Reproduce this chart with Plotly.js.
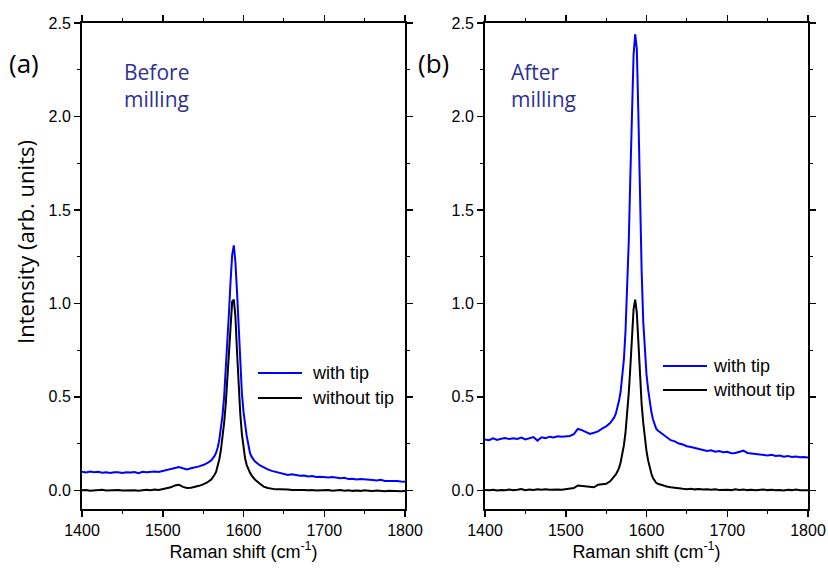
<!DOCTYPE html>
<html>
<head>
<meta charset="utf-8">
<script src="https://cdn.plot.ly/plotly-3.0.1.min.js"></script>
<style>html,body{margin:0;padding:0;background:#fff;}#plot{width:828px;height:569px;}</style>
</head>
<body>
<div id="plot"></div>
<script>
// Raman shift (cm^-1)
const ramanShift = [1400,1405,1410,1415,1420,1425,1430,1435,1440,1445,1450,1455,1460,1465,1470,1475,1480,1485,1490,1495,1500,1505,1510,1515,1520,1525,1530,1535,1540,1545,1550,1555,1560,
1562,1564,1566,1568,1570,1572,1574,1576,1578,1580,1582,1584,1586,1588,1590,1592,1594,1596,1598,1600,1602,1604,1606,1608,1610,1612,1614,
1620,1625,1630,1635,1640,1645,1650,1655,1660,1665,1670,1675,1680,1685,1690,1695,1700,1705,1710,1715,1720,1725,1730,1735,1740,1745,1750,1755,1760,1765,1770,1775,1780,1785,1790,1795,1800];

// (a) Before milling, with tip
const beforeWithTip = [0.100,0.095,0.100,0.097,0.099,0.094,0.097,0.093,0.096,0.097,0.093,0.097,0.095,0.098,0.092,0.099,0.097,0.100,0.101,0.098,0.104,0.106,0.112,0.120,0.125,0.118,0.112,0.118,0.122,0.128,0.135,0.145,0.160,
0.170,0.183,0.200,0.228,0.270,0.330,0.400,0.500,0.630,0.780,0.950,1.120,1.260,1.310,1.220,1.060,0.870,0.670,0.520,0.420,0.350,0.290,0.245,0.200,0.180,0.165,0.155,
0.134,0.122,0.112,0.104,0.098,0.093,0.090,0.082,0.086,0.080,0.078,0.079,0.074,0.076,0.071,0.073,0.070,0.068,0.071,0.066,0.064,0.067,0.060,0.062,0.058,0.060,0.057,0.058,0.055,0.053,0.056,0.050,0.051,0.049,0.050,0.047,0.046];

// (a) Before milling, without tip
const beforeWithoutTip = [0.000,0.002,-0.002,0.001,0.000,0.003,-0.001,0.001,0.000,0.002,-0.001,0.000,0.002,0.000,-0.002,0.001,0.003,0.000,0.004,0.002,0.006,0.010,0.016,0.026,0.030,0.018,0.012,0.014,0.018,0.024,0.032,0.042,0.058,
0.068,0.082,0.098,0.125,0.165,0.215,0.280,0.360,0.460,0.600,0.760,0.910,1.010,1.020,0.930,0.740,0.550,0.410,0.300,0.225,0.170,0.135,0.110,0.095,0.080,0.068,0.058,
0.036,0.020,0.012,0.008,0.005,0.006,0.003,0.004,0.002,0.003,0.001,0.002,0.000,0.002,-0.001,0.001,0.000,0.002,-0.002,0.000,0.001,-0.002,0.000,-0.003,-0.001,-0.003,0.000,-0.002,-0.004,-0.001,-0.003,-0.005,-0.002,-0.004,-0.003,-0.005,-0.004];

// (b) After milling, with tip
const afterWithTip = [0.272,0.268,0.278,0.270,0.276,0.280,0.274,0.279,0.275,0.282,0.272,0.280,0.285,0.266,0.284,0.279,0.287,0.283,0.289,0.286,0.288,0.291,0.300,0.328,0.322,0.312,0.302,0.308,0.315,0.330,0.342,0.360,0.390,
0.410,0.440,0.480,0.530,0.600,0.700,0.850,1.050,1.330,1.680,2.020,2.330,2.440,2.360,2.000,1.550,1.170,0.900,0.730,0.620,0.540,0.470,0.420,0.380,0.350,0.330,0.320,
0.300,0.285,0.268,0.262,0.250,0.245,0.236,0.232,0.226,0.222,0.212,0.210,0.214,0.206,0.210,0.204,0.206,0.198,0.200,0.208,0.212,0.200,0.198,0.192,0.190,0.188,0.186,0.190,0.184,0.186,0.180,0.184,0.178,0.181,0.177,0.178,0.176];

// (b) After milling, without tip
const afterWithoutTip = [0.002,0.000,0.003,-0.001,0.002,0.000,0.004,0.001,0.003,0.007,0.001,0.004,0.002,0.005,0.003,0.006,0.003,0.005,0.004,0.003,0.005,0.006,0.012,0.026,0.024,0.018,0.020,0.016,0.030,0.034,0.035,0.048,0.072,
0.085,0.100,0.120,0.150,0.190,0.240,0.310,0.400,0.520,0.660,0.820,0.970,1.020,0.950,0.790,0.600,0.460,0.360,0.280,0.210,0.160,0.120,0.090,0.065,0.050,0.040,0.035,
0.026,0.020,0.016,0.012,0.010,0.008,0.006,0.008,0.005,0.007,0.004,0.006,0.003,0.005,0.002,0.004,0.003,0.001,0.005,0.002,0.004,0.001,0.003,0.000,0.002,0.004,0.001,0.003,0.000,0.002,-0.001,0.003,0.001,0.004,0.000,0.001,0.000];

const seriesNames = ['with tip', 'without tip'];
const xTickVals = [1400, 1500, 1600, 1700, 1800];
const yTickVals = [0.0, 0.5, 1.0, 1.5, 2.0, 2.5];

const BLUE = '#0000ff', BLACK = '#000000', TXT = '#2e3192';
const ARIAL = 'Liberation Sans, Arial, sans-serif';
const MYRIAD = 'Open Sans, Noto Sans, sans-serif';
const tickFont = {family: ARIAL, size: 16, color: '#000'};
const titleFont = {family: ARIAL, size: 18, color: '#000'};

const traces = [
  {x: ramanShift, y: beforeWithTip, name: seriesNames[0], type: 'scatter', mode: 'lines', line: {color: BLUE, width: 2}, xaxis: 'x', yaxis: 'y', showlegend: false},
  {x: ramanShift, y: beforeWithoutTip, name: seriesNames[1], type: 'scatter', mode: 'lines', line: {color: BLACK, width: 2}, xaxis: 'x', yaxis: 'y', showlegend: false},
  {x: ramanShift, y: afterWithTip, name: seriesNames[0], type: 'scatter', mode: 'lines', line: {color: BLUE, width: 2}, xaxis: 'x2', yaxis: 'y2', showlegend: false},
  {x: ramanShift, y: afterWithoutTip, name: seriesNames[1], type: 'scatter', mode: 'lines', line: {color: BLACK, width: 2}, xaxis: 'x2', yaxis: 'y2', showlegend: false}
];

function xax(domain, anchor) {
  return {
    domain: domain, anchor: anchor, range: [1400, 1800],
    tickmode: 'array', tickvals: xTickVals, ticktext: xTickVals.map(String),
    ticks: 'outside', ticklen: 6, tickwidth: 1.5, tickcolor: '#000',
    minor: {dtick: 50, ticks: 'outside', ticklen: 3, tickwidth: 1.2, tickcolor: '#000'},
    showline: true, linecolor: '#000', linewidth: 2, mirror: 'allticks',
    showgrid: false, zeroline: false, tickfont: tickFont,
    title: {text: 'Raman shift (cm<sup>-1</sup>)', font: titleFont, standoff: 5}
  };
}
function yax(anchor) {
  return {
    domain: [0, 1], anchor: anchor, range: [-0.1, 2.5],
    tickmode: 'array', tickvals: yTickVals, ticktext: yTickVals.map(v => v.toFixed(1)),
    ticks: 'outside', ticklen: 6, tickwidth: 1.5, tickcolor: '#000',
    minor: {dtick: 0.25, tick0: 0, ticks: 'outside', ticklen: 3, tickwidth: 1.2, tickcolor: '#000'},
    showline: true, linecolor: '#000', linewidth: 2, mirror: 'allticks',
    showgrid: false, zeroline: false, tickfont: tickFont
  };
}

const W = 828, H = 569, mt = 23, mb = 60;
const PH = H - mt - mb;
const px = v => v / W;
const py = v => (H - mb - v) / PH;

// hand-drawn legends (one per panel)
const legendSpots = [
  {x0: 258, x1: 302, tx: 310, ys: [373, 398]},
  {x0: 663, x1: 707, tx: 711, ys: [366, 390]}
];
const lineColors = [BLUE, BLACK];
const shapes = [], annotations = [];
legendSpots.forEach(L => {
  L.ys.forEach((yy, i) => {
    shapes.push({type: 'line', xref: 'paper', yref: 'paper', x0: px(L.x0), x1: px(L.x1), y0: py(yy), y1: py(yy),
      line: {color: lineColors[i], width: 2}});
    annotations.push({xref: 'paper', yref: 'paper', x: px(L.tx), y: py(yy), text: seriesNames[i], showarrow: false,
      xanchor: 'left', yanchor: 'middle', font: {family: ARIAL, size: 18, color: '#000'}});
  });
});

annotations.push(
  {xref: 'paper', yref: 'paper', x: px(25), y: py(242), text: 'Intensity (arb. units)', textangle: -90, showarrow: false,
    xanchor: 'center', yanchor: 'middle', font: {family: MYRIAD, size: 22, color: '#000'}},
  {xref: 'paper', yref: 'paper', x: px(24), y: py(63), text: '(a)', showarrow: false, xanchor: 'center', yanchor: 'middle',
    font: {family: MYRIAD, size: 26, color: '#000'}},
  {xref: 'paper', yref: 'paper', x: px(433), y: py(63), text: '(b)', showarrow: false, xanchor: 'center', yanchor: 'middle',
    font: {family: MYRIAD, size: 26, color: '#000'}},
  {xref: 'paper', yref: 'paper', x: px(122), y: py(56), text: 'Before<br>milling', showarrow: false, xanchor: 'left', yanchor: 'top', align: 'left',
    font: {family: MYRIAD, size: 21, color: TXT}},
  {xref: 'paper', yref: 'paper', x: px(509), y: py(56), text: 'After<br>milling', showarrow: false, xanchor: 'left', yanchor: 'top', align: 'left',
    font: {family: MYRIAD, size: 21, color: TXT}}
);

const layout = {
  width: W, height: H,
  margin: {l: 0, r: 0, t: mt, b: mb},
  paper_bgcolor: '#fff', plot_bgcolor: '#fff',
  showlegend: false,
  xaxis: xax([px(82), px(405)], 'y'),
  yaxis: yax('x'),
  xaxis2: xax([px(485), px(808)], 'y2'),
  yaxis2: yax('x2'),
  shapes: shapes,
  annotations: annotations
};

Plotly.newPlot('plot', traces, layout, {displayModeBar: false, staticPlot: true});
</script>
</body>
</html>
